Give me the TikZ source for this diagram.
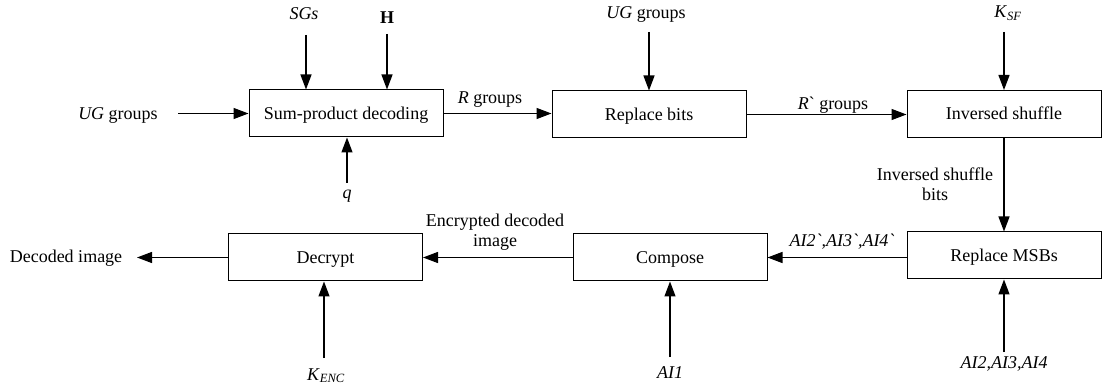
\documentclass[tikz,border=0pt]{standalone}
\usepackage{fontspec}
\setmainfont{Liberation Serif}[Ligatures=TeXOff]
\usetikzlibrary{arrows.meta}
\begin{document}
\begin{tikzpicture}[x=1pt,y=-1pt,
  font=\fontsize{18}{20}\selectfont,
  block/.style={draw, line width=1pt, minimum width=194pt, minimum height=47pt,
                inner sep=0pt, text height=12pt, text depth=0pt},
  flow/.style={line width=1.3pt, -{Triangle[length=15pt,width=11pt]}},
  lbl/.style={anchor=base, inner sep=0pt},
  lbl2/.style={anchor=center, align=center, inner sep=0pt}]
\useasboundingbox (0,0) rectangle (1104,390);

% processing blocks
\node[block] (dec) at (346,113.5)   {Sum-product decoding};
\node[block] (rep) at (649,114.5)   {Replace bits};
\node[block] (inv) at (1004,114)    {Inversed shuffle};
\node[block] (msb) at (1004,255.5)  {Replace MSBs};
\node[block] (cmp) at (670,257.5)   {Compose};
\node[block] (dcr) at (325.5,257.5) {Decrypt};

% inputs, outputs and signal labels
\node[lbl] (ugL)  at (118,120)  {\textit{UG} groups};
\node[lbl] (sgs)  at (304,19.5) {\textit{SGs}};
\node[lbl] (H)    at (387,24)   {\textbf{H}};
\node[lbl] (q)    at (347,199)  {\textit{q}};
\node[lbl] (rg)   at (490,103.5){\textit{R} groups};
\node[lbl] (ugT)  at (646,19)   {\textit{UG} groups};
\node[lbl] (rpg)  at (833,110)  {\textit{R}` groups};
\node[lbl] (ksf)  at (1008,18)  {\textit{K}\textsubscript{\textit{SF}}};
\node[lbl2] (isb) at (935,184)  {Inversed shuffle\\bits};
\node[lbl] (aip)  at (842,247)  {\textit{AI2`,AI3`,AI4`}};
\node[lbl] (ai)   at (1004,368) {\textit{AI2,AI3,AI4}};
\node[lbl] (ai1)  at (670,378)  {\textit{AI1}};
\node[lbl2] (edi) at (495,232)  {Encrypted decoded\\image};
\node[lbl] (out)  at (66,263)   {Decoded image};
\node[lbl] (kenc) at (326,380)  {\textit{K}\textsubscript{\textit{ENC}}};

% free ends of the connectors
\coordinate (ugS)   at (178,113.5);
\coordinate (sgsS)  at (306,35);
\coordinate (hS)    at (387,34);
\coordinate (qS)    at (347,183);
\coordinate (ugTS)  at (649,32);
\coordinate (ksfS)  at (1004,32);
\coordinate (aiS)   at (1004,352);
\coordinate (ai1S)  at (670,357);
\coordinate (kencS) at (324,358);
\coordinate (outE)  at (137,257.5);

% connectors
\draw[flow] (ugS) -- (ugS -| dec.west);
\draw[flow] (sgsS) -- (sgsS |- dec.north);
\draw[flow] (hS) -- (hS |- dec.north);
\draw[flow] (qS) -- (qS |- dec.south);
\draw[flow] (dec.east) -- (rep.west |- dec.east);
\draw[flow] (ugTS) -- (rep.north);
\draw[flow] (rep.east) -- (inv.west |- rep.east);
\draw[flow] (ksfS) -- (inv.north);
\draw[flow] (inv.south) -- (msb.north);
\draw[flow] (aiS) -- (msb.south);
\draw[flow] (msb.west |- cmp.east) -- (cmp.east);
\draw[flow] (ai1S) -- (cmp.south);
\draw[flow] (cmp.west) -- (dcr.east);
\draw[flow] (kencS) -- (kencS |- dcr.south);
\draw[flow] (dcr.west) -- (outE);
\end{tikzpicture}
\end{document}
